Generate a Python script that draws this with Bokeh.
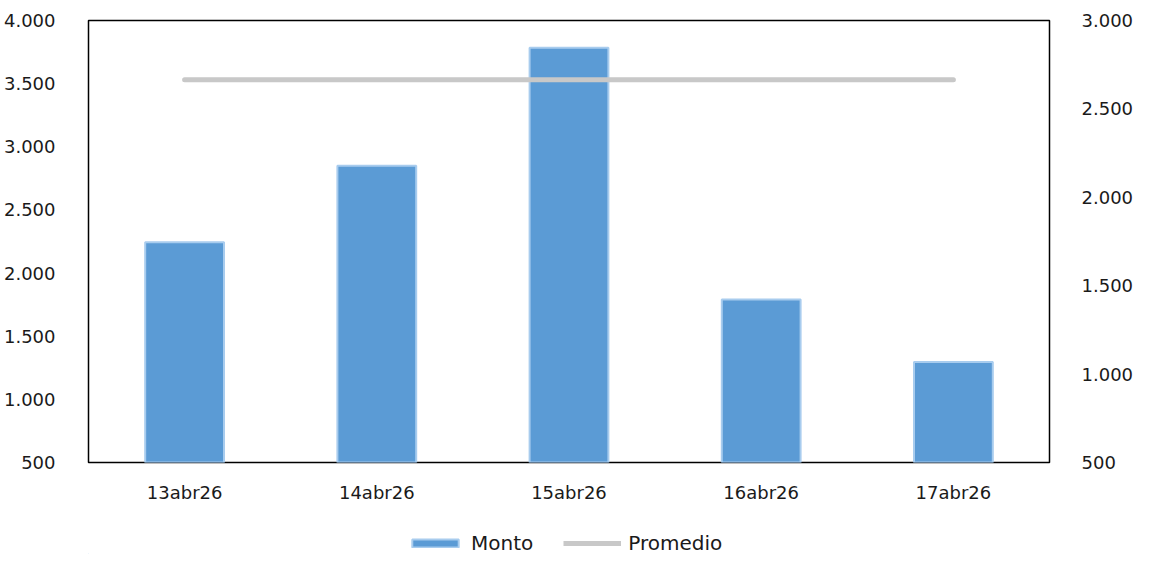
from bokeh.plotting import figure
from bokeh.layouts import column
from bokeh.models import (FactorRange, Range1d, LinearAxis, FixedTicker,
                          CustomJSTickFormatter, Legend, LegendItem, ColumnDataSource)
from bokeh.embed import file_html
from bokeh.resources import INLINE

categories = ["13abr26", "14abr26", "15abr26", "16abr26", "17abr26"]
monto = [2245, 2850, 3785, 1790, 1295]
promedio = [2665, 2665, 2665, 2665, 2665]
left_ticks = [500, 1000, 1500, 2000, 2500, 3000, 3500, 4000]
right_ticks = [500, 1000, 1500, 2000, 2500, 3000]

FONT = "DejaVu Sans"
BAR_FILL, BAR_LINE, AVG_COLOR = "#5B9BD5", "#A8CCEE", "#C8C8C8"
src = ColumnDataSource(dict(cat=categories, monto=monto, prom=promedio))

p = figure(width=1136, height=505, x_range=FactorRange(*categories),
           y_range=Range1d(500, 4000), output_backend="svg", toolbar_location=None,
           min_border_left=88, min_border_right=86, min_border_top=20, min_border_bottom=43)
p.extra_y_ranges = {"right": Range1d(500, 3000)}
p.xgrid.visible = False
p.ygrid.visible = False
p.outline_line_color = "black"
p.outline_line_width = 1.5

fmt = CustomJSTickFormatter(code="return tick.toFixed(0).replace(/\\B(?=(\\d{3})+(?!\\d))/g, '.');")

p.vbar(x="cat", top="monto", bottom=500, width=0.41, source=src,
       fill_color=BAR_FILL, line_color=BAR_LINE, line_width=2)
p.line(x="cat", y="prom", y_range_name="right", source=src,
       line_color=AVG_COLOR, line_width=5, line_cap="round")

yl = p.yaxis[0]
yl.ticker = FixedTicker(ticks=left_ticks)
yl.formatter = fmt
yr = LinearAxis(y_range_name="right", ticker=FixedTicker(ticks=right_ticks), formatter=fmt)
p.add_layout(yr, "right")
for ax in [yl, yr, p.xaxis[0]]:
    ax.axis_line_color = None
    ax.major_tick_line_color = None
    ax.minor_tick_line_color = None
    ax.major_label_text_font = FONT
    ax.major_label_text_font_size = "18px"
    ax.major_label_text_color = "#1a1a1a"
yl.major_label_standoff = 27
yr.major_label_standoff = 26
p.xaxis[0].major_label_standoff = 13

# legend strip (proxy glyphs placed outside the visible range)
q = figure(width=1136, height=49, x_range=Range1d(0, 1), y_range=Range1d(0, 1),
           x_axis_type=None, y_axis_type=None, output_backend="svg", toolbar_location=None,
           min_border_left=0, min_border_right=0, min_border_top=0, min_border_bottom=0)
q.outline_line_color = None
q.xgrid.visible = False
q.ygrid.visible = False
rb = q.vbar(x=[-10], top=[-10], bottom=-11, width=0.4,
            fill_color=BAR_FILL, line_color=BAR_LINE, line_width=2)
rl = q.line(x=[-10, -9], y=[-10, -10], line_color=AVG_COLOR, line_width=5)
legend = Legend(items=[LegendItem(label="Monto", renderers=[rb]),
                       LegendItem(label="Promedio", renderers=[rl])],
                orientation="horizontal", location=(318, -1),
                padding=0, margin=0, spacing=30, label_standoff=7,
                glyph_width=58, glyph_height=10,
                border_line_color=None, background_fill_alpha=0,
                label_text_font=FONT, label_text_font_size="20px",
                label_text_color="#1a1a1a")
q.add_layout(legend, "center")

layout = column(p, q, spacing=0)
open("out.html", "w").write(file_html(layout, INLINE))
